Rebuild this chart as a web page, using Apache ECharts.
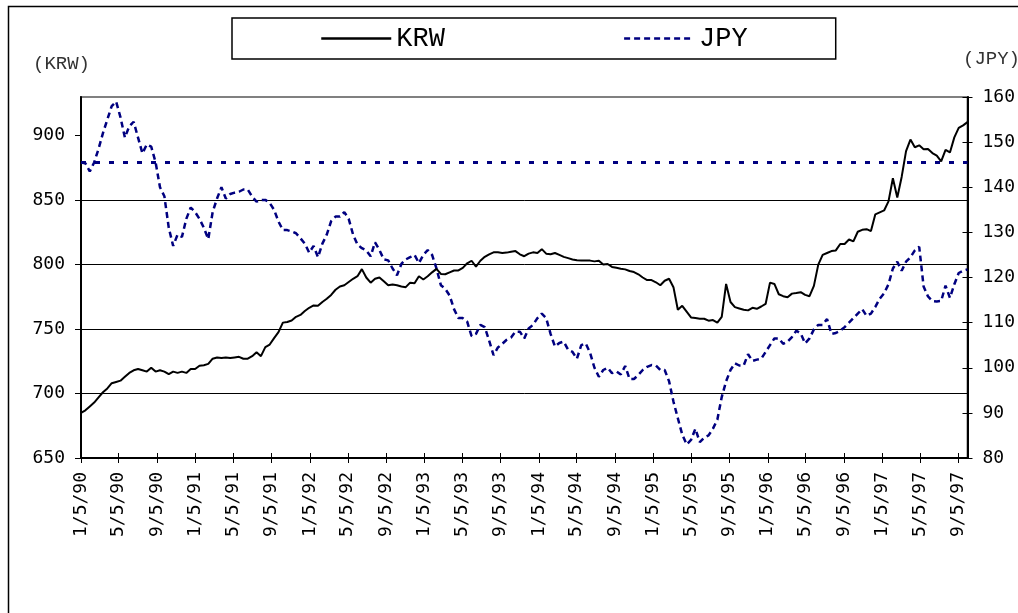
<!DOCTYPE html>
<html>
<head>
<meta charset="utf-8">
<script src="https://cdn.jsdelivr.net/npm/echarts@6/dist/echarts.min.js"></script>
<style>
html,body{margin:0;padding:0;background:#fff;}
#chart{width:1018px;height:613px;}
</style>
</head>
<body>
<div id="chart"></div>
<script>
// ---- data (biweekly observations starting 1990-01-05) ----
const startDate = '1990-01-05';
const stepDays = 14;
const tickLabels = ['1/5/90','5/5/90','9/5/90','1/5/91','5/5/91','9/5/91','1/5/92','5/5/92','9/5/92','1/5/93','5/5/93','9/5/93','1/5/94','5/5/94','9/5/94','1/5/95','5/5/95','9/5/95','1/5/96','5/5/96','9/5/96','1/5/97','5/5/97','9/5/97'];
const krwTicks = [650, 700, 750, 800, 850, 900];
const jpyRefLevel = 145.5;

const krw = [
685,687,690,693,697,701,704,708,709,710,713,716,718,719,718,717,720,717,718,717,
715,717,716,717,716,719,719,721.5,722,723,727,728,727.5,728,727.5,728,728.5,727,727,729,
732,729,736,738,743,747.6,755,755.5,756.6,759.5,761,764,766.5,768.3,768,771,773.5,776.5,780.5,783,
784,786.5,789,791,796.5,790,786,789,790,787,784,784.5,784,783,782.5,786,785.5,791,788.5,791,
794,796.7,792.8,792.5,794,795.4,795.5,797.5,801,803,798.5,803,806,808,809.5,809.5,809,809.3,810,810.5,
808,806.5,808.5,809.5,809,812,808.5,808,809,807.5,806,805,804,803.3,803.1,803.1,803.1,802.5,803,800,
800.5,798.2,797.5,796.8,796.3,795,794.2,792.5,790,788,788,786.3,784,787.5,789,782.5,765,768,763.5,759,
758.5,758,758,756.5,757,755,759.5,785,771,767,766,765,764.5,766.5,765.7,767.5,769.5,786,785,777,
775.5,774.7,777.5,778,778.6,776.5,775.5,783.5,800,807.5,809,810.5,811,816,816,819.5,818,825.5,827,827.5,
826,839,840.5,842,849,867,852,868,888,897,891,892.5,889.5,889.7,886.5,884.5,880,889,887,898.7,
906,908,910.5
];

const jpy = [
145.5,145.3,143.5,145.5,148.5,152,155,158,159,155.5,151,153.5,154.5,151,147.5,149.5,149,145.5,140,138,
131,127,129.5,129,133,135.5,134.5,133,131,128.5,134.5,137.5,140,137.5,138.5,138.8,139,139.5,139.5,137.9,
136.8,137.2,137.2,136.5,135,132.4,130.5,130.5,130.2,129.8,128.7,127.5,125.5,127,124.5,127.5,129.5,132.5,133.5,133.5,
134.5,133,129.5,127.3,126.5,126,124.7,127.8,126.1,124,123.8,122,120.5,123,124,124.5,125,123.2,125,126.1,
125,122,118.3,117.5,116,113,111,111,110.2,107,107.5,109.5,109,106,102.8,104.5,105.3,106.2,106.7,108,
108,106.5,108.7,109.5,111,112,111,107.5,104.7,105.5,105.8,104,103.5,102,105,105.4,103.3,100,98,99.5,
100,98.8,99.2,98.5,100.4,97.5,97.5,98.4,99.5,100.2,100.6,100.5,99.5,99.5,97,92.5,88.8,85.2,83,84,
86.5,83.5,84.5,85,86.5,88.5,93.5,97,99.5,101,100.5,100.5,103,101.5,101.8,102,103.5,105,106.5,106.5,
105.3,105.8,106.8,108.2,107.6,105.4,106.5,108.5,109.5,109.5,110.8,107.5,107.7,108.2,109,110,111,112,113,111.5,
112,113.5,115.3,116.5,118.5,122,123.5,121.5,123.5,124.5,126,126.8,118,115.8,114.8,114.7,114.8,118.2,115.5,118.5,
121,121.5,121.8
];

// ---- build ----
function parseISO(s){ const p = s.split('-').map(Number); return new Date(p[0], p[1]-1, p[2]).getTime(); }
function parseMDY(s){ const p = s.split('/').map(Number); return new Date(1900 + p[2], p[0]-1, p[1]).getTime(); }
const t0 = parseISO(startDate);
function dateAt(i){ const d = new Date(t0); d.setDate(d.getDate() + i*stepDays); return d.getTime(); }
const krwData = krw.map((v,i)=>[dateAt(i), v]);
const jpyData = jpy.map((v,i)=>[dateAt(i), v]);
const tickTs = tickLabels.map(parseMDY);
const xMin = dateAt(0), xMax = dateAt(krw.length-1);
function fmtDate(v){ const i = tickTs.indexOf(v); return i >= 0 ? tickLabels[i] : ''; }

const monoFont = 'DejaVu Sans Mono';
const chart = echarts.init(document.getElementById('chart'), null, {renderer:'canvas'});
chart.setOption({
  animation:false,
  backgroundColor:'#fff',
  graphic:[
    {type:'rect', shape:{x:8.5, y:6.5, width:1100, height:700}, style:{fill:'none', stroke:'#000', lineWidth:1.5}, silent:true, z:0},
    {type:'text', left:33, top:54, style:{text:'(KRW)', font:'19px "Liberation Mono"', fill:'#333'}},
    {type:'text', left:963, top:49, style:{text:'(JPY)', font:'19px "Liberation Mono"', fill:'#333'}}
  ],
  legend:{
    data:['KRW','JPY'], left:232, top:18, orient:'horizontal',
    padding:[7,88,7,88], itemGap:178, itemWidth:70, itemHeight:14,
    borderColor:'#000', borderWidth:1.5,
    itemStyle:{opacity:0},
    lineStyle:{width:2.5},
    textStyle:{fontFamily:'Liberation Mono', fontSize:27, color:'#000'}
  },
  grid:{left:81, right:42, top:97, bottom:155, show:true, borderColor:'#808080', borderWidth:2, backgroundColor:'transparent'},
  xAxis:[
    {type:'value', min:xMin, max:xMax, position:'bottom',
     axisLine:{show:true, lineStyle:{color:'#000', width:2}},
     axisTick:{show:true, customValues:tickTs, length:5, lineStyle:{color:'#000', width:1}},
     axisLabel:{customValues:tickTs, formatter:fmtDate, rotate:90, margin:14, fontFamily:monoFont, fontSize:18, color:'#000', hideOverlap:false, showMinLabel:true, showMaxLabel:true},
     splitLine:{show:false}},
    {type:'value', min:xMin, max:xMax, position:'bottom',
     axisLine:{show:false},
     axisTick:{show:true, inside:true, customValues:tickTs, length:5, lineStyle:{color:'#000', width:1}},
     axisLabel:{show:false}, splitLine:{show:false}}
  ],
  yAxis:[
    {type:'value', min:650, max:930, interval:50, position:'left',
     axisLine:{show:true, lineStyle:{color:'#000', width:2}},
     axisTick:{show:true, customValues:krwTicks, length:6, lineStyle:{color:'#000', width:1}},
     axisLabel:{customValues:krwTicks, margin:16, fontFamily:monoFont, fontSize:18, color:'#000', formatter:v=> krwTicks.indexOf(v)>=0 ? String(v) : ''},
     splitLine:{show:true, showMaxLine:false, lineStyle:{color:'#000', width:1}}},
    {type:'value', min:80, max:160, interval:10, position:'right',
     axisLine:{show:true, lineStyle:{color:'#000', width:2}},
     axisTick:{show:true, length:5, lineStyle:{color:'#000', width:1}},
     axisLabel:{margin:15, fontFamily:monoFont, fontSize:18, color:'#000'},
     splitLine:{show:false}},
    {type:'value', min:80, max:160, interval:10, position:'right',
     axisLine:{show:false},
     axisTick:{show:true, inside:true, length:5, lineStyle:{color:'#000', width:1}},
     axisLabel:{show:false}, splitLine:{show:false}}
  ],
  series:[
    {name:'KRW', type:'line', xAxisIndex:0, yAxisIndex:0, data:krwData, symbol:'none', showSymbol:false,
     lineStyle:{color:'#000', width:2}, itemStyle:{color:'#000'}, z:3},
    {name:'JPY', type:'line', xAxisIndex:0, yAxisIndex:1, data:jpyData, symbol:'none', showSymbol:false,
     lineStyle:{color:'#000080', width:2.5, type:[6,4]}, itemStyle:{color:'#000080'}, z:2,
     markLine:{silent:true, symbol:['none','none'], label:{show:false},
       lineStyle:{color:'#000080', width:3, type:[5,9]},
       data:[{yAxis:jpyRefLevel}]}}
  ]
});
</script>
</body>
</html>
